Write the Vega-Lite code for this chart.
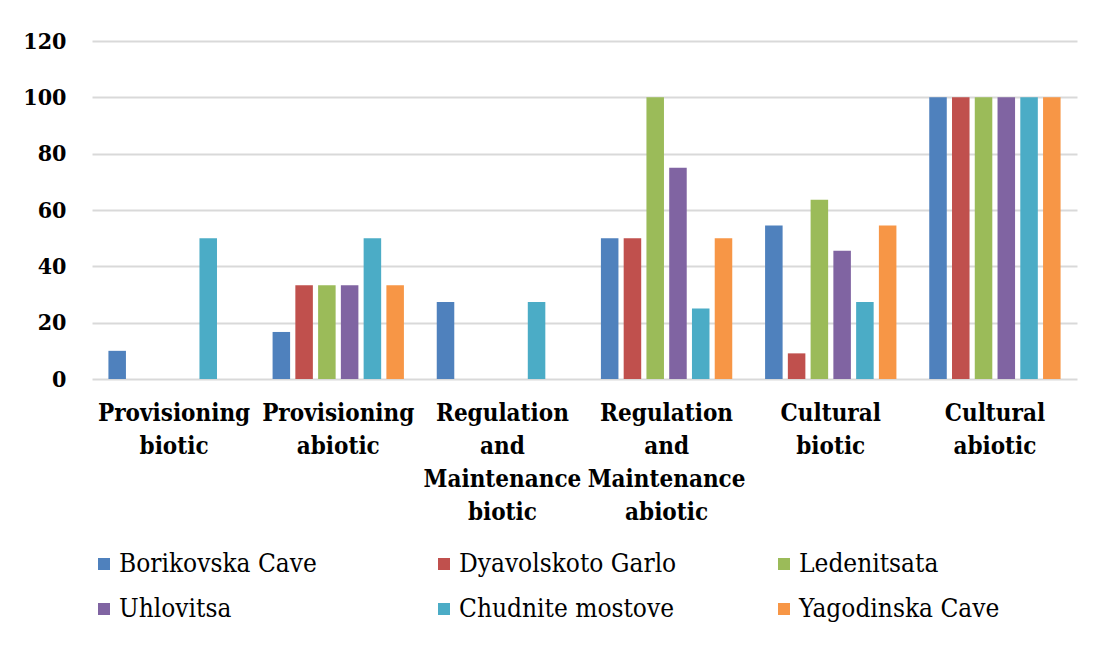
{
  "$schema": "https://vega.github.io/schema/vega-lite/v6.json",
  "width": 985,
  "height": 338,
  "autosize": {"type": "none"},
  "padding": {"left": 92, "top": 41, "right": 17, "bottom": 273},
  "background": "white",
  "config": {
    "view": {"stroke": null},
    "font": "DejaVu Serif Condensed, DejaVu Serif"
  },
  "data": {
    "values": [
      {"category": "Provisioning biotic", "site": "Borikovska Cave", "value": 10},
      {"category": "Provisioning biotic", "site": "Dyavolskoto Garlo", "value": 0},
      {"category": "Provisioning biotic", "site": "Ledenitsata", "value": 0},
      {"category": "Provisioning biotic", "site": "Uhlovitsa", "value": 0},
      {"category": "Provisioning biotic", "site": "Chudnite mostove", "value": 50},
      {"category": "Provisioning biotic", "site": "Yagodinska Cave", "value": 0},
      {"category": "Provisioning abiotic", "site": "Borikovska Cave", "value": 16.7},
      {"category": "Provisioning abiotic", "site": "Dyavolskoto Garlo", "value": 33.3},
      {"category": "Provisioning abiotic", "site": "Ledenitsata", "value": 33.3},
      {"category": "Provisioning abiotic", "site": "Uhlovitsa", "value": 33.3},
      {"category": "Provisioning abiotic", "site": "Chudnite mostove", "value": 50},
      {"category": "Provisioning abiotic", "site": "Yagodinska Cave", "value": 33.3},
      {"category": "Regulation and Maintenance biotic", "site": "Borikovska Cave", "value": 27.3},
      {"category": "Regulation and Maintenance biotic", "site": "Dyavolskoto Garlo", "value": 0},
      {"category": "Regulation and Maintenance biotic", "site": "Ledenitsata", "value": 0},
      {"category": "Regulation and Maintenance biotic", "site": "Uhlovitsa", "value": 0},
      {"category": "Regulation and Maintenance biotic", "site": "Chudnite mostove", "value": 27.3},
      {"category": "Regulation and Maintenance biotic", "site": "Yagodinska Cave", "value": 0},
      {"category": "Regulation and Maintenance abiotic", "site": "Borikovska Cave", "value": 50},
      {"category": "Regulation and Maintenance abiotic", "site": "Dyavolskoto Garlo", "value": 50},
      {"category": "Regulation and Maintenance abiotic", "site": "Ledenitsata", "value": 100},
      {"category": "Regulation and Maintenance abiotic", "site": "Uhlovitsa", "value": 75},
      {"category": "Regulation and Maintenance abiotic", "site": "Chudnite mostove", "value": 25},
      {"category": "Regulation and Maintenance abiotic", "site": "Yagodinska Cave", "value": 50},
      {"category": "Cultural biotic", "site": "Borikovska Cave", "value": 54.5},
      {"category": "Cultural biotic", "site": "Dyavolskoto Garlo", "value": 9.1},
      {"category": "Cultural biotic", "site": "Ledenitsata", "value": 63.6},
      {"category": "Cultural biotic", "site": "Uhlovitsa", "value": 45.5},
      {"category": "Cultural biotic", "site": "Chudnite mostove", "value": 27.3},
      {"category": "Cultural biotic", "site": "Yagodinska Cave", "value": 54.5},
      {"category": "Cultural abiotic", "site": "Borikovska Cave", "value": 100},
      {"category": "Cultural abiotic", "site": "Dyavolskoto Garlo", "value": 100},
      {"category": "Cultural abiotic", "site": "Ledenitsata", "value": 100},
      {"category": "Cultural abiotic", "site": "Uhlovitsa", "value": 100},
      {"category": "Cultural abiotic", "site": "Chudnite mostove", "value": 100},
      {"category": "Cultural abiotic", "site": "Yagodinska Cave", "value": 100}
    ]
  },
  "mark": {"type": "bar"},
  "encoding": {
    "x": {
      "field": "category",
      "type": "nominal",
      "sort": null,
      "scale": {"paddingInner": 0.2, "paddingOuter": 0.1},
      "axis": {
        "title": null,
        "domain": false,
        "ticks": false,
        "labelAngle": 0,
        "labelExpr": "split(datum.label, ' ')",
        "labelFont": "DejaVu Serif Condensed, DejaVu Serif",
        "labelFontWeight": "bold",
        "labelFontSize": 24,
        "labelLineHeight": 33,
        "labelColor": "black",
        "labelPadding": 22,
        "labelLimit": 0,
        "labelOverlap": false,
        "labelBaseline": "top"
      }
    },
    "xOffset": {
      "field": "site",
      "type": "nominal",
      "sort": ["Borikovska Cave", "Dyavolskoto Garlo", "Ledenitsata", "Uhlovitsa", "Chudnite mostove", "Yagodinska Cave"],
      "scale": {"paddingInner": 0.23, "paddingOuter": 0}
    },
    "y": {
      "field": "value",
      "type": "quantitative",
      "scale": {"domain": [0, 120], "nice": false},
      "axis": {
        "title": null,
        "values": [0, 20, 40, 60, 80, 100, 120],
        "domain": false,
        "ticks": false,
        "gridColor": "#d9d9d9",
        "gridWidth": 2,
        "labelFont": "DejaVu Serif Condensed, DejaVu Serif",
        "labelFontWeight": "bold",
        "labelFontSize": 23,
        "labelColor": "black",
        "labelPadding": 26
      }
    },
    "color": {
      "field": "site",
      "type": "nominal",
      "scale": {
        "domain": ["Borikovska Cave", "Dyavolskoto Garlo", "Ledenitsata", "Uhlovitsa", "Chudnite mostove", "Yagodinska Cave"],
        "range": ["#4F81BD", "#C0504D", "#9BBB59", "#8064A2", "#4BACC6", "#F79646"]
      },
      "legend": {
        "title": null,
        "orient": "none",
        "legendX": -1,
        "legendY": 510,
        "direction": "horizontal",
        "columns": 3,
        "gridAlign": "all",
        "columnPadding": 94,
        "rowPadding": 19,
        "symbolType": "square",
        "symbolSize": 144,
        "symbolStrokeWidth": 0,
        "labelFont": "DejaVu Serif Condensed, DejaVu Serif",
        "labelFontSize": 26,
        "labelColor": "black",
        "labelOffset": 2,
        "labelLimit": 0
      }
    }
  }
}
